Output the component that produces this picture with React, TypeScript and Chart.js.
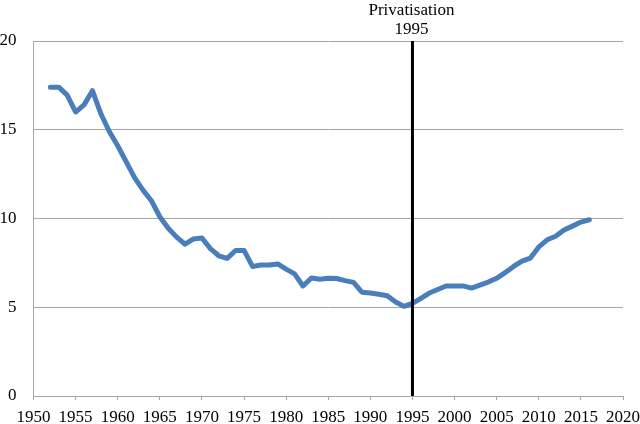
import React, { useEffect, useRef } from "react";
import { Chart, registerables } from "chart.js";

Chart.register(...registerables);

const years: number[] = [
  1952, 1953, 1954, 1955, 1956, 1957, 1958, 1959, 1960, 1961, 1962, 1963, 1964,
  1965, 1966, 1967, 1968, 1969, 1970, 1971, 1972, 1973, 1974, 1975, 1976, 1977,
  1978, 1979, 1980, 1981, 1982, 1983, 1984, 1985, 1986, 1987, 1988, 1989, 1990,
  1991, 1992, 1993, 1994, 1995, 1996, 1997, 1998, 1999, 2000, 2001, 2002, 2003,
  2004, 2005, 2006, 2007, 2008, 2009, 2010, 2011, 2012, 2013, 2014, 2015, 2016,
];

const values: number[] = [
  17.4, 17.4, 16.95, 16.0, 16.4, 17.2, 15.9, 14.9, 14.1, 13.2, 12.3, 11.6, 11.0,
  10.1, 9.45, 8.95, 8.55, 8.85, 8.9, 8.3, 7.9, 7.75, 8.2, 8.2, 7.3, 7.38,
  7.38, 7.44, 7.15, 6.88, 6.2, 6.65, 6.58, 6.63, 6.62, 6.5, 6.4, 5.85, 5.8,
  5.73, 5.65, 5.3, 5.05, 5.22, 5.5, 5.8, 6.0, 6.2, 6.2, 6.2, 6.08, 6.25,
  6.42, 6.63, 6.95, 7.3, 7.6, 7.77, 8.4, 8.8, 9.0, 9.35, 9.57, 9.8, 9.93,
];

const eventYear = 1995;
const eventLabel: string[] = ["Privatisation", "1995"];
const yRange: number[] = [0, 20];
const xRange: number[] = [1950, 2020];

const FONT = "'Liberation Serif', 'Times New Roman', serif";

export default function App() {
  const ref = useRef<HTMLCanvasElement | null>(null);

  useEffect(() => {
    document.body.style.margin = "0";
    const canvas = ref.current;
    if (!canvas) return;

    const labelPlugin = {
      id: "eventLabel",
      afterDraw(chart: any) {
        const ctx = chart.ctx;
        const x = chart.scales.x.getPixelForValue(eventYear);
        ctx.save();
        ctx.fillStyle = "#000";
        ctx.font = `17px ${FONT}`;
        ctx.textAlign = "center";
        ctx.textBaseline = "alphabetic";
        ctx.fillText(eventLabel[0], x - 1, 15);
        ctx.fillText(eventLabel[1], x - 1, 34);
        ctx.restore();
      },
    };

    const chart = new Chart(canvas, {
      type: "line",
      data: {
        datasets: [
          {
            data: [
              { x: eventYear, y: yRange[0] },
              { x: eventYear, y: yRange[1] },
            ],
            borderColor: "#000000",
            borderWidth: 3,
            pointRadius: 0,
            order: 0,
          },
          {
            data: years.map((y, i) => ({ x: y, y: values[i] })),
            borderColor: "#4a7ebb",
            borderWidth: 5,
            pointRadius: 0,
            tension: 0,
            borderJoinStyle: "round",
            borderCapStyle: "round",
            order: 1,
          },
        ],
      },
      options: {
        responsive: false,
        animation: false,
        layout: { padding: { left: 0, right: 17, top: 41, bottom: 0 } },
        plugins: {
          legend: { display: false },
          tooltip: { enabled: false },
        },
        scales: {
          x: {
            type: "linear",
            min: xRange[0],
            max: xRange[1],
            afterFit: (s: any) => {
              s.height = 28;
              s.paddingLeft = 0;
              s.paddingRight = 0;
            },
            ticks: {
              stepSize: 5,
              color: "#000",
              font: { family: FONT, size: 17 },
              padding: 7,
              maxRotation: 0,
              autoSkip: false,
              callback: (v: any) => String(v),
            },
            grid: {
              drawOnChartArea: false,
              drawTicks: true,
              tickLength: 4,
              color: "#a6a6a6",
            },
            border: { display: true, color: "#a6a6a6", width: 1 },
          },
          y: {
            type: "linear",
            min: yRange[0],
            max: yRange[1],
            afterFit: (s: any) => {
              s.width = 33.5;
              s.paddingTop = 0;
              s.paddingBottom = 0;
            },
            ticks: {
              stepSize: 5,
              color: "#000",
              font: { family: FONT, size: 17 },
              padding: 17,
            },
            grid: {
              drawTicks: false,
              color: "#a6a6a6",
              lineWidth: 1,
            },
            border: { display: true, color: "#a6a6a6", width: 1 },
          },
        },
      },
      plugins: [labelPlugin],
    } as any);

    return () => chart.destroy();
  }, []);

  return (
    <div style={{ position: "absolute", left: 0, top: 0, width: 640, height: 424 }}>
      <canvas ref={ref} width={640} height={424} />
    </div>
  );
}
